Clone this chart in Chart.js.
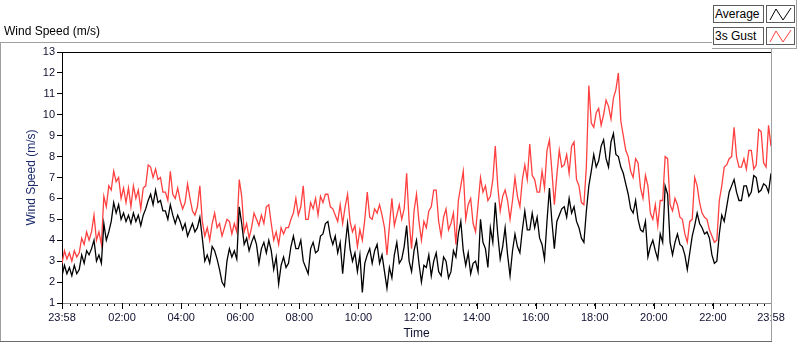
<!DOCTYPE html>
<html>
<head>
<meta charset="utf-8">
<script src="https://cdn.jsdelivr.net/npm/chart.js@4.4.7/dist/chart.umd.min.js"></script>
<style>
  html, body { margin: 0; padding: 0; background: #ffffff; }
  body { width: 800px; height: 342px; position: relative; overflow: hidden; font-family: "Liberation Sans", Arial, sans-serif; }
  #chartBox { position: absolute; left: 0; top: 0; width: 800px; height: 342px; }
  #chartTitle { position: absolute; left: 4px; top: 24px; font-size: 12px; color: #000000; white-space: nowrap; }
  .line { position: absolute; background: #a0a0a0; }
  .legend-label { position: absolute; left: 713px; width: 48px; height: 16px; border: 1px solid #5c5c5c; background: #ffffff; font-size: 12px; line-height: 16px; padding-left: 1px; color: #000000; }
  .legend-icon { position: absolute; left: 766px; width: 27px; height: 16px; border: 1px solid #5c5c5c; background: #ffffff; }
</style>
</head>
<body>
<div id="chartBox"><canvas id="windChart" width="800" height="342"></canvas></div>
<div id="chartTitle">Wind Speed (m/s)</div>
<div class="line" style="left:0;top:42px;width:712px;height:1px;"></div>
<div class="line" style="left:0;top:42px;width:1px;height:300px;"></div>
<div class="line" style="left:771px;top:49px;width:1px;height:293px;"></div>
<div class="line" style="left:0;top:341px;width:772px;height:1px;background:#6a6a6a;"></div>
<div class="line" style="left:712px;top:48px;width:85px;height:1px;"></div>
<div class="line" style="left:796px;top:0;width:1px;height:49px;"></div>
<div class="legend-label" style="top:5px;">Average</div>
<div class="legend-icon" style="top:5px;"><svg width="27" height="16"><polyline points="3,14 9,3 16,14 24,2" fill="none" stroke="#000000" stroke-width="1"/></svg></div>
<div class="legend-label" style="top:27px;">3s Gust</div>
<div class="legend-icon" style="top:27px;"><svg width="27" height="16"><polyline points="3,14 9,3 16,14 24,2" fill="none" stroke="#ff4040" stroke-width="1"/></svg></div>
<script>
// samples every 5 minutes, starting 23:58 (one row = one hour)
const sampleMinutes = 5;

const avgSpeed = [
  2.3, 2.8, 2.4, 2.7, 2.3, 2.8, 2.4, 2.6, 3.3, 2.9, 3.5, 3.3,
  3.6, 4.0, 3.0, 3.3, 2.9, 4.8, 4.0, 4.4, 4.9, 5.8, 5.3, 5.7,
  5.0, 5.3, 4.9, 5.2, 4.8, 5.3, 4.9, 5.2, 4.7, 5.2, 5.5, 5.9,
  6.2, 5.7, 6.4, 5.8, 5.9, 5.4, 5.4, 5.0, 5.7, 5.2, 4.8, 5.2,
  4.9, 4.5, 4.8, 4.2, 4.5, 4.8, 4.4, 4.6, 5.1, 4.1, 3.0, 3.3,
  2.9, 3.7, 3.5, 3.1, 2.6, 2.0, 1.8, 3.0, 3.6, 3.2, 3.5, 3.1,
  5.6, 4.8, 3.8, 4.1, 3.5, 3.9, 4.2, 3.8, 2.9, 3.6, 3.9, 3.4,
  4.0, 3.5, 2.6, 3.2, 1.9, 2.8, 3.2, 2.7, 2.9, 3.7, 4.2, 3.6,
  3.6, 4.0, 3.0, 2.7, 2.4, 3.6, 3.9, 3.4, 3.5, 4.2, 4.3, 4.8,
  4.9, 4.2, 3.8, 4.2, 3.4, 3.9, 2.4, 3.7, 4.8, 3.6, 3.0, 3.4,
  2.5, 3.3, 1.5, 2.9, 3.3, 3.6, 2.9, 3.5, 3.8, 2.9, 3.3, 2.5,
  1.7, 2.7, 2.2, 3.3, 3.9, 2.9, 3.1, 3.7, 4.7, 3.0, 2.5, 3.5,
  4.0, 2.9, 2.0, 2.8, 2.7, 3.3, 2.3, 3.0, 3.4, 2.5, 2.3, 3.2,
  3.0, 2.2, 2.5, 3.5, 3.2, 4.3, 4.9, 3.5, 2.8, 3.4, 2.4, 2.9,
  3.0, 2.5, 5.0, 3.9, 3.6, 2.7, 4.6, 3.9, 5.8, 4.3, 3.1, 3.7,
  4.6, 3.3, 2.3, 3.5, 4.3, 3.7, 3.4, 4.5, 5.4, 4.5, 4.5, 5.3,
  4.6, 5.1, 4.1, 3.8, 3.1, 4.9, 6.5, 4.9, 3.6, 4.9, 5.2, 5.5,
  5.6, 5.1, 6.0, 5.3, 5.6, 4.9, 4.6, 4.1, 3.9, 5.4, 6.6, 7.3,
  8.1, 7.5, 7.8, 8.5, 8.8, 7.9, 7.5, 8.7, 9.1, 8.1, 8.0, 7.5,
  7.2, 6.7, 6.2, 5.5, 5.3, 5.9, 5.0, 4.5, 4.4, 4.9, 3.2, 3.7,
  4.0, 3.5, 3.1, 4.3, 3.9, 6.6, 6.2, 3.9, 3.3, 3.9, 4.3, 3.8,
  3.7, 3.3, 2.6, 3.4, 4.2, 4.7, 5.3, 4.8, 4.6, 4.3, 4.4, 4.1,
  3.3, 2.9, 3.0, 4.3, 5.2, 4.9, 5.6, 6.3, 6.6, 6.9, 6.3, 5.9,
  5.9, 6.6, 6.6, 6.1, 6.3, 7.1, 7.0, 6.3, 6.4, 6.7, 6.6, 6.3,
  7.2
];

const gustSpeed = [
  2.9, 3.5, 3.1, 3.4, 3.0, 3.5, 3.2, 3.4, 4.1, 3.8, 4.4, 4.0,
  4.4, 5.2, 4.0, 4.4, 3.8, 6.1, 5.6, 6.6, 6.4, 7.3, 6.8, 7.0,
  6.0, 6.5, 5.8, 6.5, 5.6, 6.6, 6.0, 6.4, 5.5, 6.5, 6.6, 7.6,
  7.5, 7.0, 7.4, 6.9, 7.0, 6.3, 6.3, 5.9, 7.3, 6.2, 6.0, 6.5,
  5.9, 5.5, 5.8, 6.7, 6.0, 5.4, 5.2, 5.6, 6.6, 4.9, 4.2, 4.6,
  4.0, 4.8, 5.3, 4.6, 4.8, 4.2, 4.6, 5.0, 4.9, 4.3, 4.8, 4.4,
  6.9, 6.1, 4.4, 4.8, 4.1, 4.6, 5.3, 5.0, 4.7, 5.2, 4.8, 5.6,
  5.7, 4.8, 4.0, 4.4, 3.8, 4.6, 4.3, 4.6, 4.6, 5.0, 5.3, 6.0,
  5.2, 5.6, 6.6, 5.0, 5.0, 5.8, 5.5, 6.0, 5.2, 6.1, 5.8, 6.2,
  6.2, 5.6, 5.5, 5.2, 4.9, 5.7, 4.8, 5.6, 6.2, 4.9, 4.4, 4.7,
  3.7, 4.5, 4.0, 5.0, 6.3, 5.1, 5.0, 5.5, 5.3, 5.7, 5.2, 4.6,
  3.3, 4.7, 6.0, 4.7, 5.2, 5.7, 5.0, 5.5, 7.2, 4.9, 3.6, 5.4,
  6.2, 4.9, 4.0, 4.9, 4.6, 5.4, 5.6, 6.4, 6.4, 4.9, 4.2, 5.1,
  5.5, 4.5, 4.8, 5.3, 3.8, 5.9, 6.6, 7.3, 5.0, 5.7, 6.0, 4.8,
  4.4, 5.7, 7.0, 6.3, 6.6, 5.9, 6.1, 6.9, 8.5, 6.6, 5.4, 6.1,
  6.4, 5.9, 5.0, 5.9, 7.0, 6.1, 5.6, 6.9, 7.6, 6.9, 8.6, 7.1,
  6.9, 6.3, 6.3, 7.3, 6.5, 8.3, 8.8, 7.3, 5.7, 7.1, 8.3, 7.5,
  7.6, 8.1, 7.2, 8.5, 8.7, 6.9, 6.6, 5.8, 5.7, 7.5, 11.4, 9.6,
  9.4, 10.1, 10.3, 9.5, 10.0, 10.7, 10.4, 9.8, 10.8, 11.2, 12.0, 9.7,
  9.0, 8.3, 8.0, 7.3, 7.0, 7.9, 7.7, 6.5, 6.0, 7.1, 6.6, 5.3,
  5.0, 5.7, 4.7, 5.9, 5.9, 8.0, 7.9, 5.7, 5.4, 6.0, 5.7, 5.1,
  5.0, 4.3, 3.9, 4.9, 5.0, 7.0, 6.6, 5.8, 5.3, 5.1, 5.0, 4.5,
  4.2, 3.9, 4.0, 5.9, 6.6, 7.5, 7.6, 7.9, 8.0, 9.4, 8.0, 7.5,
  7.5, 7.9, 7.4, 8.3, 8.3, 7.4, 7.6, 9.3, 9.2, 7.7, 7.5, 9.5,
  8.5
];

// labelled ticks, in minutes after 23:58
const timeTickMinutes = [0, 122, 242, 362, 482, 602, 722, 842, 962, 1082, 1202, 1322, 1440];
const timeTickLabels = ["23:58", "02:00", "04:00", "06:00", "08:00", "10:00", "12:00", "14:00", "16:00", "18:00", "20:00", "22:00", "23:58"];
const minorTickStart = 2;
const minorTickStep = 15;

const textColor = "#101030";

function toPoints(values) {
  return values.map((value, index) => ({ x: index * sampleMinutes, y: value }));
}

function buildTimeTicks() {
  const ticks = [];
  for (let minute = minorTickStart; minute < 1440; minute += minorTickStep) {
    ticks.push({ value: minute });
  }
  timeTickMinutes.forEach((minute) => {
    if (!ticks.some((tick) => tick.value === minute)) {
      ticks.push({ value: minute });
    }
  });
  ticks.sort((a, b) => a.value - b.value);
  return ticks;
}

const frameLines = {
  id: "frameLines",
  afterDraw(chart) {
    const { ctx, chartArea } = chart;
    const xScale = chart.scales.x;
    ctx.save();
    ctx.strokeStyle = "#000000";
    ctx.lineWidth = 1;
    ctx.beginPath();
    ctx.moveTo(chartArea.left, chartArea.top + 0.5);
    ctx.lineTo(chartArea.right + 1, chartArea.top + 0.5);
    ctx.stroke();
    // longer marks for labelled times
    timeTickMinutes.forEach((minute) => {
      const x = Math.round(xScale.getPixelForValue(minute)) + 0.5;
      ctx.beginPath();
      ctx.moveTo(x, chartArea.bottom);
      ctx.lineTo(x, chartArea.bottom + 6);
      ctx.stroke();
    });
    ctx.restore();
  },
};

new Chart(document.querySelector("#windChart"), {
  type: "line",
  data: {
    datasets: [
      {
        label: "Average",
        data: toPoints(avgSpeed),
        borderColor: "#000000",
        borderWidth: 1.3,
        pointRadius: 0,
        tension: 0,
      },
      {
        label: "3s Gust",
        data: toPoints(gustSpeed),
        borderColor: "#ff4040",
        borderWidth: 1.3,
        pointRadius: 0,
        tension: 0,
      },
    ],
  },
  options: {
    responsive: false,
    animation: false,
    events: [],
    layout: {
      padding: { left: 0, top: 52, right: 29, bottom: 0 },
    },
    plugins: {
      legend: { display: false },
      tooltip: { enabled: false },
    },
    scales: {
      x: {
        type: "linear",
        min: 0,
        max: 1440,
        afterFit(scale) {
          scale.height = 39;
        },
        afterBuildTicks(scale) {
          scale.ticks = buildTimeTicks();
        },
        border: { color: "#8a8a8a", width: 1 },
        grid: {
          drawOnChartArea: false,
          drawTicks: true,
          tickLength: 3,
          tickColor: "#000000",
        },
        ticks: {
          autoSkip: false,
          maxRotation: 0,
          padding: 5,
          color: textColor,
          font: { family: "Liberation Sans", size: 11 },
          callback(value) {
            const index = timeTickMinutes.indexOf(value);
            return index >= 0 ? timeTickLabels[index] : "";
          },
        },
        title: {
          display: true,
          text: "Time",
          color: textColor,
          font: { family: "Liberation Sans", size: 12 },
          padding: { top: 0, bottom: 1 },
        },
      },
      y: {
        min: 1,
        max: 13,
        afterFit(scale) {
          scale.width = 62;
        },
        border: { color: "#000000", width: 1 },
        grid: {
          drawOnChartArea: false,
          drawTicks: true,
          tickLength: 5,
          tickColor: "#000000",
        },
        ticks: {
          stepSize: 1,
          padding: 2,
          color: textColor,
          font: { family: "Liberation Sans", size: 11 },
        },
        title: {
          display: true,
          text: "Wind Speed (m/s)",
          color: "#1c2a6a",
          font: { family: "Liberation Sans", size: 12 },
          padding: { top: 24, bottom: 0 },
        },
      },
    },
  },
  plugins: [frameLines],
});
</script>
</body>
</html>
